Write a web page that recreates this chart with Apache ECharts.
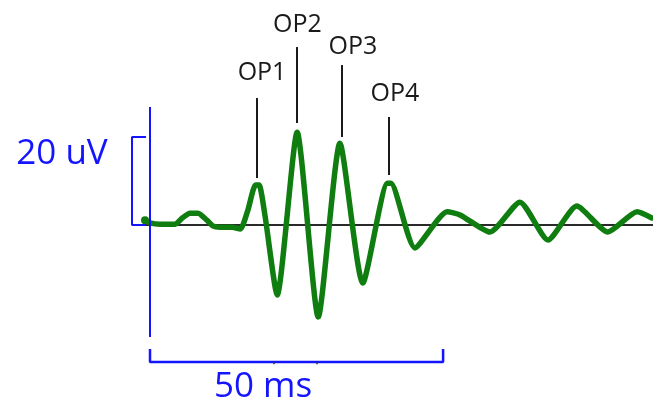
<!DOCTYPE html>
<html>
<head>
<meta charset="utf-8">
<script src="https://cdn.jsdelivr.net/npm/echarts@6/dist/echarts.min.js"></script>
<style>
html,body{margin:0;padding:0;background:#fff;}
#chart{width:653px;height:408px;}
</style>
</head>
<body>
<div id="chart"></div>
<script>
// Waveform (time in ms, amplitude in uV)
const timeMs = [-0.85, 0, 1.7, 4.3, 5.5, 6.8, 8.2, 9.7, 10.7, 11.9, 14.0, 15.4, 16.7, 18.0, 18.6, 19.6, 21.7, 25.1, 28.7, 32.4, 36.3, 40.5, 41.1, 45.2, 50.7, 52.9, 58.0, 63.1, 67.9, 72.8, 78.1, 83.1, 85.6];
const amplitudeUv = [1.1, 0.5, 0.2, 0.2, 1.6, 2.7, 2.7, 1.1, -0.2, -0.5, -0.5, -0.9, 3.4, 9.1, 9.1, 2.3, -15.9, 21.1, -20.9, 18.6, -13.2, 9.5, 9.5, -5.2, 3.0, 2.3, -1.6, 5.2, -3.4, 4.3, -1.6, 3.0, 1.6];

// Oscillatory potential labels
const opLabels = ['OP1', 'OP2', 'OP3', 'OP4'];
const opTimes = [18.25, 25.08, 32.75, 40.77];
const opLineTop = [28.86, 40.45, 36.36, 24.55];
const opLineBottom = [10.68, 23.18, 20.0, 11.36];
const opLabelTime = [19.11, 25.16, 34.63, 41.79];
const opLabelAmp = [34.66, 45.45, 40.45, 29.77];

// Scale bars
const scaleAmpUv = 20;
const scaleTimeMs = 50;
const scaleAmpLabel = '20 uV';
const scaleTimeLabel = '50 ms';
const axisLineTop = 26.82, axisLineBottom = -25.45;
const bracketLeft = -3.07, bracketRight = -0.68;
const timeBarY = -31.14, timeBarTickY = -28.18;
const timeBarMinorTicks = [21.15, 28.49];
const ampLabelPos = [-15.01, 16.02];
const timeLabelPos = [19.28, -36.93];
const baselineStart = -1.36, baselineEnd = 85.81;

const blue = '#1414ff';
const green = '#0f7d0f';
const ink = '#1a1a1a';

const wave = timeMs.map((t, i) => [t, amplitudeUv[i]]);
const series = [];

// baseline
series.push({type: 'line', data: [[baselineStart, 0], [baselineEnd, 0]], symbol: 'none',
  lineStyle: {color: '#2a2a2a', width: 2}, silent: true, z: 1});
// waveform
series.push({type: 'line', data: wave, symbol: 'none', smooth: 0.2,
  lineStyle: {color: green, width: 5.5, join: 'round', cap: 'round'}, z: 2});
// start dot
series.push({type: 'scatter', data: [wave[0]], symbol: 'circle', symbolSize: 8,
  itemStyle: {color: green, opacity: 1}, z: 2});
// OP lines
opTimes.forEach((t, i) => {
  series.push({type: 'line', data: [[t, opLineTop[i]], [t, opLineBottom[i]]], symbol: 'none',
    lineStyle: {color: ink, width: 2}, z: 3});
});
// OP labels
series.push({type: 'scatter', symbolSize: 0, z: 4, itemStyle: {opacity: 1},
  data: opLabels.map((s, i) => ({value: [opLabelTime[i], opLabelAmp[i]], name: s})),
  label: {show: true, position: 'inside', formatter: p => p.name, color: ink,
    fontFamily: 'Open Sans', fontSize: 25}});
// vertical blue axis line
series.push({type: 'line', data: [[0, axisLineTop], [0, axisLineBottom]], symbol: 'none',
  lineStyle: {color: blue, width: 2}, z: 5});
// amplitude bracket
series.push({type: 'line', data: [[bracketRight, scaleAmpUv], [bracketLeft, scaleAmpUv], [bracketLeft, 0], [bracketRight, 0]],
  symbol: 'none', lineStyle: {color: blue, width: 2}, z: 5});
// time bar
series.push({type: 'line', data: [[0, timeBarTickY], [0, timeBarY], [scaleTimeMs, timeBarY], [scaleTimeMs, timeBarTickY]],
  symbol: 'none', lineStyle: {color: blue, width: 2.5}, z: 5});
timeBarMinorTicks.forEach(t => {
  series.push({type: 'line', data: [[t, timeBarY], [t, timeBarY - 0.5]], symbol: 'none',
    lineStyle: {color: '#333', width: 1.5}, z: 6});
});
// scale labels
series.push({type: 'scatter', symbolSize: 0, z: 6, itemStyle: {opacity: 1},
  data: [{value: ampLabelPos, name: scaleAmpLabel}, {value: timeLabelPos, name: scaleTimeLabel}],
  label: {show: true, position: 'inside', formatter: p => p.name, color: blue,
    fontFamily: 'Open Sans', fontSize: 35}});

const chart = echarts.init(document.getElementById('chart'), null, {renderer: 'canvas'});
chart.setOption({
  animation: false,
  backgroundColor: '#fff',
  grid: {left: 0, right: 0, top: 0, bottom: 0},
  xAxis: {type: 'value', min: -25.59, max: 85.81, show: false},
  yAxis: {type: 'value', min: -41.59, max: 51.14, show: false},
  series: series
});
</script>
</body>
</html>
